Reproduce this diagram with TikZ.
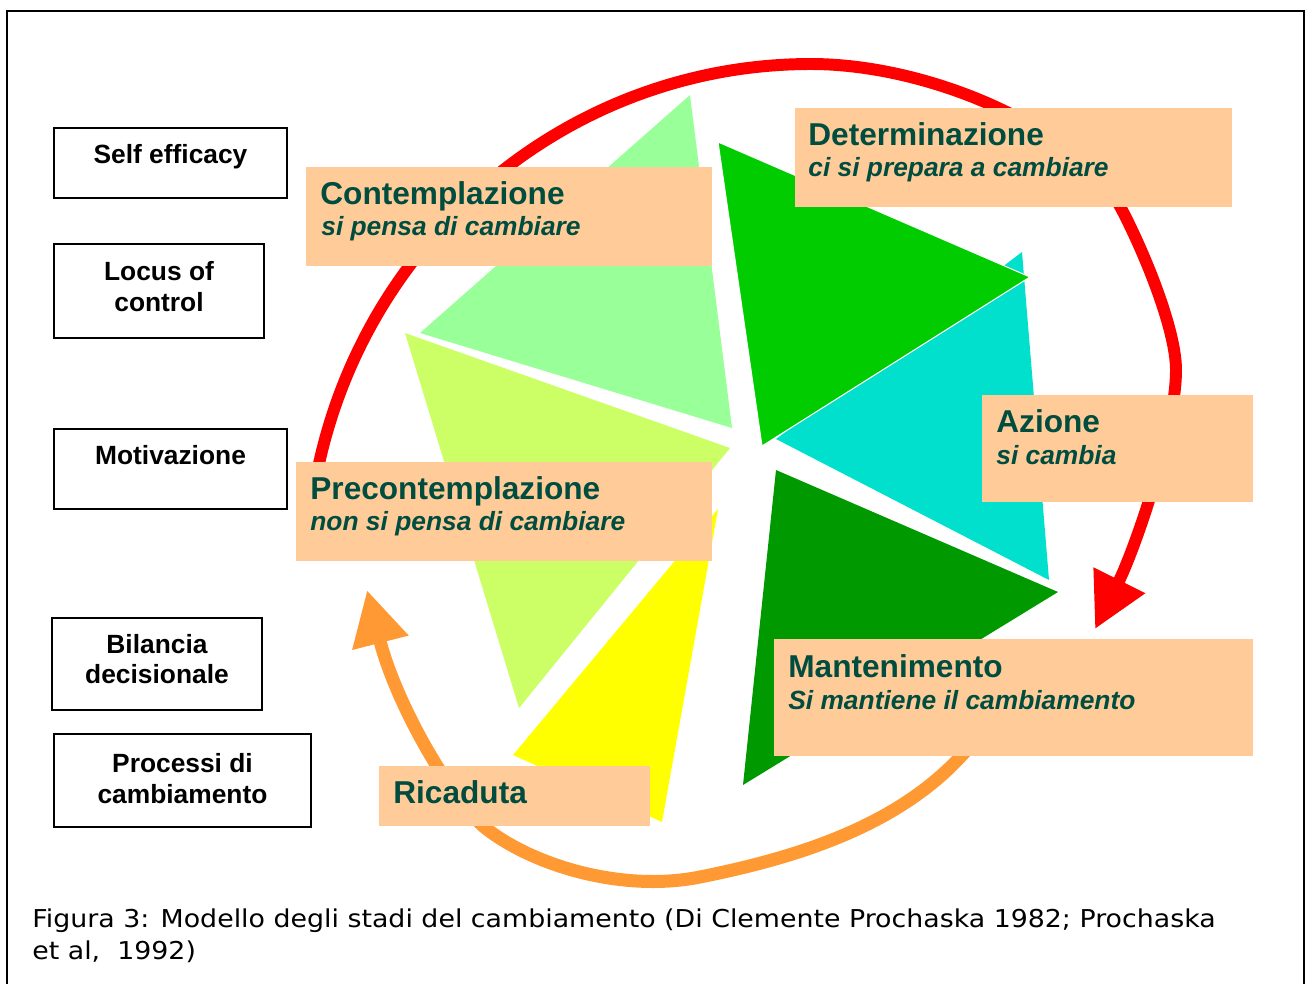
\documentclass[tikz,border=0pt]{standalone}
\usepackage{fontspec}
\setmainfont{Liberation Sans}
\newfontfamily\capfont[FakeStretch=1.09]{DejaVu Sans}
\usepackage{xcolor}
\definecolor{ColBox}{RGB}{255,204,153}
\definecolor{ColText}{RGB}{0,77,64}
\definecolor{ColLight}{RGB}{153,255,153}
\definecolor{ColLime}{RGB}{204,255,102}
\definecolor{ColYellow}{RGB}{255,255,0}
\definecolor{ColDark}{RGB}{0,153,0}
\definecolor{ColGreen}{RGB}{0,204,0}
\definecolor{ColCyan}{RGB}{0,224,204}
\definecolor{ColRed}{RGB}{255,0,0}
\definecolor{ColOrange}{RGB}{255,153,51}
\usepackage{tikz}
\usetikzlibrary{fit}
\usetikzlibrary{arrows.meta}
\tikzstyle{Factor}=[draw=black,line width=.85pt,inner sep=0pt]
\tikzstyle{FactorText}=[anchor=base,inner sep=0pt,
font=\fontsize{15}{17.6}\selectfont\bfseries]
\tikzstyle{Stage}=[fill=ColBox,inner sep=0pt]
\tikzstyle{StageTitle}=[anchor=base west,inner sep=0pt,text=ColText,
font=\fontsize{18}{20}\selectfont\bfseries]
\tikzstyle{StageSub}=[anchor=base west,inner sep=0pt,text=ColText,
font=\fontsize{15}{17}\selectfont\bfseries\itshape]
\tikzstyle{Cycle}=[draw=ColRed,line width=6.8pt,
-{Triangle[length=31pt,width=31pt]}]
\tikzstyle{Relapse}=[draw=ColOrange,line width=7.4pt,
-{Triangle[length=31pt,width=31pt]}]
\tikzstyle{Caption}=[anchor=base west,inner sep=0pt,
font=\capfont\fontsize{14}{16}\selectfont]

\begin{document}
\begin{tikzpicture}[x=0.02cm,y=-0.02cm]
        \useasboundingbox(0,0)rectangle(1308,984);
        \draw[line width=1.1pt](7,984)--(7,11)--(1304,11)--(1304,984);
        % wheel
        \fill[ColLight](690,95)--(420,333)--(732,428)--cycle;
        \fill[ColLime](405,333)--(730,448)--(519,708)--cycle;
        \fill[ColYellow](718,509)--(662,822)--(513,755)--cycle;
        \fill[ColDark](776,470)--(1058,592)--(743,785)--cycle;
        \fill[ColCyan](1022,252)--(1049,580)--(776,439)--cycle;
        \filldraw[fill=ColGreen,draw=white,line width=.6pt]
            (718,142)--(1030,277)--(762,446)--cycle;
        % arrows
        \coordinate(r0)at(316,478);
        \coordinate(r1)at(811,64);
        \coordinate(r2)at(1122,210);
        \coordinate(r3)at(1176,370);
        \coordinate(r4)at(1095,629);
        \draw[Cycle](r0)..controls(363,235)and(571,64)..(r1)
            ..controls(931,64)and(1081,130)..(r2)
            ..controls(1145,254)and(1176,330)..(r3)
            ..controls(1176,430)and(1135,549)..(r4);
        \coordinate(o0)at(970,746);
        \coordinate(o1)at(700,877);
        \coordinate(o2)at(483,826);
        \coordinate(o3)at(367,590);
        \draw[Relapse](o0)..controls(905,824)and(800,857)..(o1)
            ..controls(620,893)and(529,864)..(o2)
            ..controls(445,790)and(395,700)..(o3);
        % stages
        \node[Stage,fit={(306,167)(712,266)}](Cont){};
        \node[StageTitle](ContT)at(320,204){Contemplazione};
        \node[StageSub](ContS)at(321,235){si pensa di cambiare};
        \node[Stage,fit={(795,108)(1232,207)}](Det){};
        \node[StageTitle](DetT)at(808,145){Determinazione};
        \node[StageSub](DetS)at(808,176){ci si prepara a cambiare};
        \node[Stage,fit={(982,395)(1253,502)}](Az){};
        \node[StageTitle](AzT)at(996,432){Azione};
        \node[StageSub](AzS)at(996,464){si cambia};
        \node[Stage,fit={(296,462)(712,561)}](Pre){};
        \node[StageTitle](PreT)at(310,499){Precontemplazione};
        \node[StageSub](PreS)at(310,530){non si pensa di cambiare};
        \node[Stage,fit={(774,639)(1253,756)}](Man){};
        \node[StageTitle](ManT)at(788,677){Mantenimento};
        \node[StageSub](ManS)at(788,709){Si mantiene il cambiamento};
        \node[Stage,fit={(379,766)(650,826)}](Ric){};
        \node[StageTitle](RicT)at(393,803){Ricaduta};
        % factors
        \node[Factor,fit={(54,128)(287,198)}](SE){};
        \node[FactorText](SEt)at(170.5,163){Self efficacy};
        \node[Factor,fit={(54,244)(264,338)}](LC){};
        \node[FactorText](LCa)at(159,280){Locus of};
        \node[FactorText](LCb)at(159,311){control};
        \node[Factor,fit={(54,429)(287,509)}](Mot){};
        \node[FactorText](Mott)at(170.5,464){Motivazione};
        \node[Factor,fit={(52,618)(262,710)}](Bil){};
        \node[FactorText](Bila)at(157,653){Bilancia};
        \node[FactorText](Bilb)at(157,683){decisionale};
        \node[Factor,fit={(54,734)(311,827)}](Proc){};
        \node[FactorText](Proca)at(182.5,772){Processi di};
        \node[FactorText](Procb)at(182.5,803){cambiamento};
        % caption
        \node[Caption](Cap1)at(32,927){Figura 3: Modello degli stadi del
            cambiamento (Di Clemente Prochaska 1982; Prochaska};
        \node[Caption](Cap2)at(32,959){et al,\ \ 1992)};
    \end{tikzpicture}
\end{document}
